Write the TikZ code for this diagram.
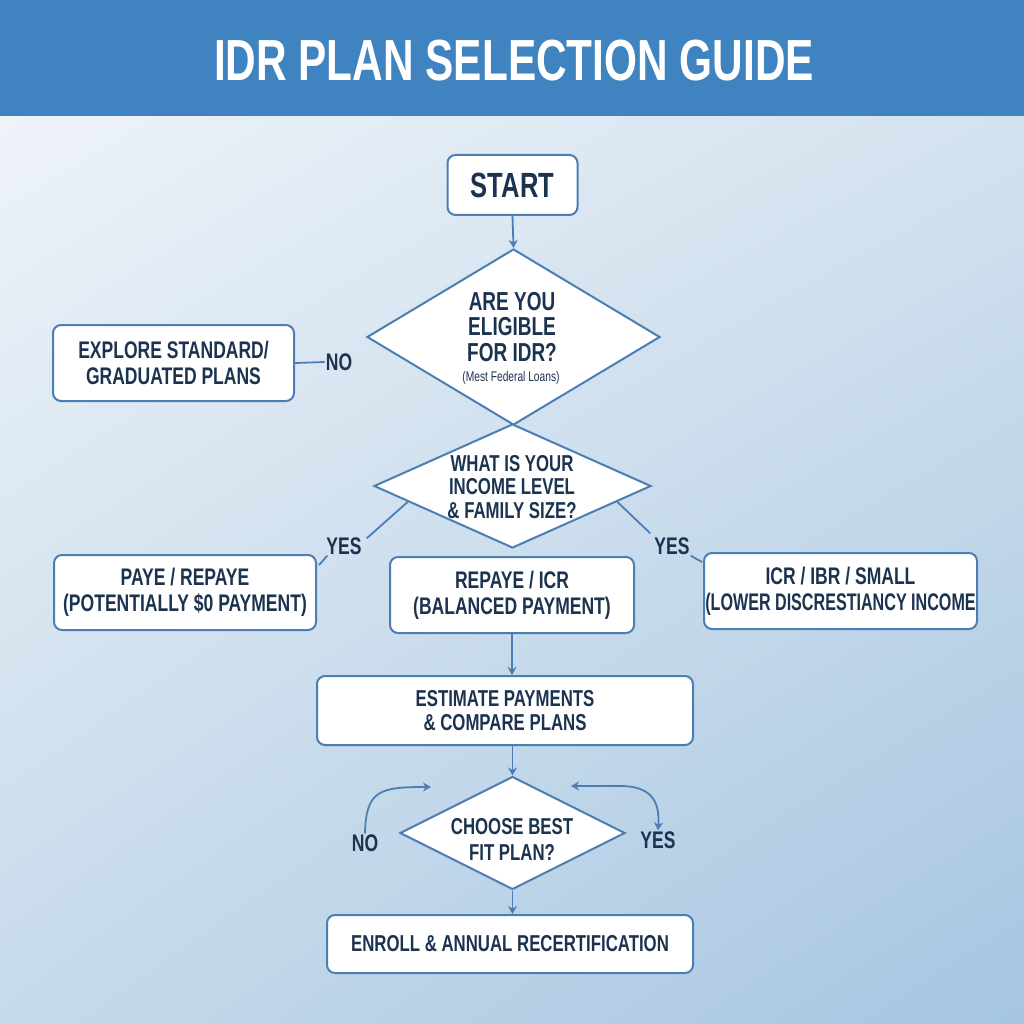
\documentclass[tikz,border=0pt]{standalone}
\usepackage{fontspec}
\setmainfont{Liberation Sans}[FakeStretch=0.73]
\usetikzlibrary{shapes.geometric,arrows.meta,calc,shadings}
\definecolor{hdr}{HTML}{3F84C0}
\definecolor{edgeblue}{HTML}{4B7FB4}
\definecolor{ink}{HTML}{1C3350}
\definecolor{bgUL}{HTML}{EEF3F8}
\definecolor{bgUR}{HTML}{D3E2EF}
\definecolor{bgLL}{HTML}{C6DAEB}
\definecolor{bgLR}{HTML}{A6C5E1}
\begin{document}
\begin{tikzpicture}[x=1pt,y=-1pt,
  box/.style={draw=edgeblue, line width=2pt, fill=white, rounded corners=8pt,
    align=center, text=ink, inner sep=0pt,
    font=\bfseries\fontsize{24}{26}\selectfont},
  dia/.style={draw=edgeblue, line width=2pt, fill=white, diamond, inner sep=0pt,
    align=center, text=ink},
  lbl/.style={text=ink, font=\bfseries\fontsize{24}{26}\selectfont, inner sep=1pt},
  conn/.style={draw=edgeblue, line width=1.8pt},
  arr/.style={conn, -{Stealth[length=8pt,width=9pt,inset=2.5pt]}},
  darr/.style={conn, {Stealth[length=8pt,width=9pt,inset=2.5pt]}-{Stealth[length=8pt,width=9pt,inset=2.5pt]}}
]
\useasboundingbox (0,0) rectangle (1024,1024);
% background
\shade[upper left=bgUL, upper right=bgUR, lower left=bgLL, lower right=bgLR] (0,116) rectangle (1024,1024);
\fill[hdr] (0,0) rectangle (1024,116);
\node[text=white, font=\bfseries\fontsize{58}{60}\selectfont] (title) at (514,61) {IDR PLAN SELECTION GUIDE};

% nodes
\node[box, minimum width=130pt, minimum height=60pt, font=\bfseries\fontsize{35}{36}\selectfont] (start) at (512.5,185) {START};
\node[dia, minimum width=293pt, minimum height=176pt] (d1) at (513.5,337) {};
\node[text=ink, align=center, font=\bfseries\fontsize{26}{25.5}\selectfont] (d1t) at (512,327)
  {ARE YOU\\ELIGIBLE\\FOR IDR?};
\node[text=ink, font=\fontsize{14}{15}\selectfont] (d1s) at (511,378) {(Mest Federal Loans)};
\node[dia, minimum width=277pt, minimum height=124pt] (d2) at (512.5,486) {};
\node[text=ink, align=center, font=\bfseries\fontsize{23}{23.5}\selectfont] (d2t) at (512,487)
  {WHAT IS YOUR\\INCOME LEVEL\\\& FAMILY SIZE?};
\node[box, minimum width=241pt, minimum height=76pt] (explore) at (173.5,363) {EXPLORE STANDARD/\\GRADUATED PLANS};
\node[lbl] (no1) at (339,362) {NO};

\node[box, minimum width=262pt, minimum height=75pt] (paye) at (185,592.5) {PAYE / REPAYE\\(POTENTIALLY \$0 PAYMENT)};
\node[box, minimum width=244pt, minimum height=76pt] (repaye) at (512,595) {REPAYE / ICR\\(BALANCED PAYMENT)};
\node[box, minimum width=273pt, minimum height=76pt] (icr) at (840.5,591) {ICR / IBR / SMALL\\\scalebox{0.92}[1]{(LOWER DISCRESTIANCY INCOME}};
\node[lbl] (yes1) at (344,546) {YES};
\node[lbl] (yes2) at (672,546) {YES};

\node[box, minimum width=376pt, minimum height=69pt, font=\bfseries\fontsize{23}{24}\selectfont] (est) at (505,710.5) {ESTIMATE PAYMENTS\\\& COMPARE PLANS};
\node[dia, minimum width=225pt, minimum height=113pt] (d3) at (512.5,833) {};
\node[text=ink, align=center, font=\bfseries\fontsize{23}{26}\selectfont] (d3t) at (512,839) {CHOOSE BEST\\FIT PLAN?};
\node[lbl] (no3) at (365,843) {NO};
\node[lbl] (yes3) at (658,840) {YES};
\node[box, minimum width=366pt, minimum height=58pt, font=\bfseries\fontsize{23}{24}\selectfont] (enroll) at (510,944) {ENROLL \& ANNUAL RECERTIFICATION};

\coordinate (noEnd) at (431,787);
\coordinate (yesEnd) at (571,786);

% connectors
\draw[arr] (start.south) -- (d1.north);
\draw[conn] (explore.east) -- (no1.west);
\draw[conn] ($(d2.west)!0.25!(d2.south)$) -- ($(yes1.north east)+(4,2)$);
\draw[conn] ($(yes1.south west)+(2,0)$) -- ($(paye.north east)+(2,11)$);
\draw[conn] ($(d2.east)!0.25!(d2.south)$) -- ($(yes2.north west)+(-3,-3)$);
\draw[conn] ($(yes2.south east)+(0,0)$) -- ($(icr.north west)+(-1,10)$);
\draw[arr] (repaye.south) -- (repaye.south |- est.north);
\draw[arr] (d3.north |- est.south) -- (d3.north);
\draw[arr] (d3.south) -- (d3.south |- enroll.north);
\draw[arr] (no3.north) .. controls (366,790) and (380,787) .. (noEnd);
\draw[darr] (yesEnd) -- (620,786) .. controls (650,786) and (660,800) .. (yes3.north);
\end{tikzpicture}
\end{document}
